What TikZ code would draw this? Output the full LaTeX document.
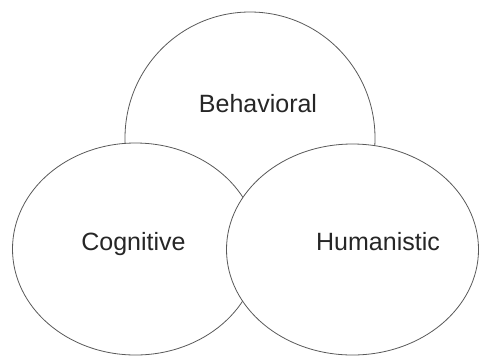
\documentclass[tikz,border=0pt]{standalone}
\usepackage{fontspec}
\setmainfont{Liberation Sans}
\usetikzlibrary{shapes.geometric}

\begin{document}
\begin{tikzpicture}[x=1pt,y=1pt,yscale=-1,
  oval/.style={ellipse,draw={black!65},line width=0.8pt,fill=white,inner sep=0pt},
  lbl/.style={anchor=base,inner sep=0pt,font=\fontsize{25}{30}\selectfont,text={black!85}}]
\useasboundingbox (0,0) rectangle (481,357);

%Shape: Ellipse top
\node [oval,minimum width=250pt,minimum height=252pt] (beh) at (250,138) {};
%Shape: Ellipse left
\node [oval,minimum width=246pt,minimum height=212pt] (cog) at (135.5,249) {};
%Shape: Ellipse right
\node [oval,minimum width=252pt,minimum height=211pt] (hum) at (352.5,249.5) {};

% Text Node
\node [lbl] (behtxt) at (258,112) {Behavioral};
% Text Node
\node [lbl] (cogtxt) at (133.5,250) {Cognitive};
% Text Node
\node [lbl] (humtxt) at (378,250) {Humanistic};

\end{tikzpicture}
\end{document}
